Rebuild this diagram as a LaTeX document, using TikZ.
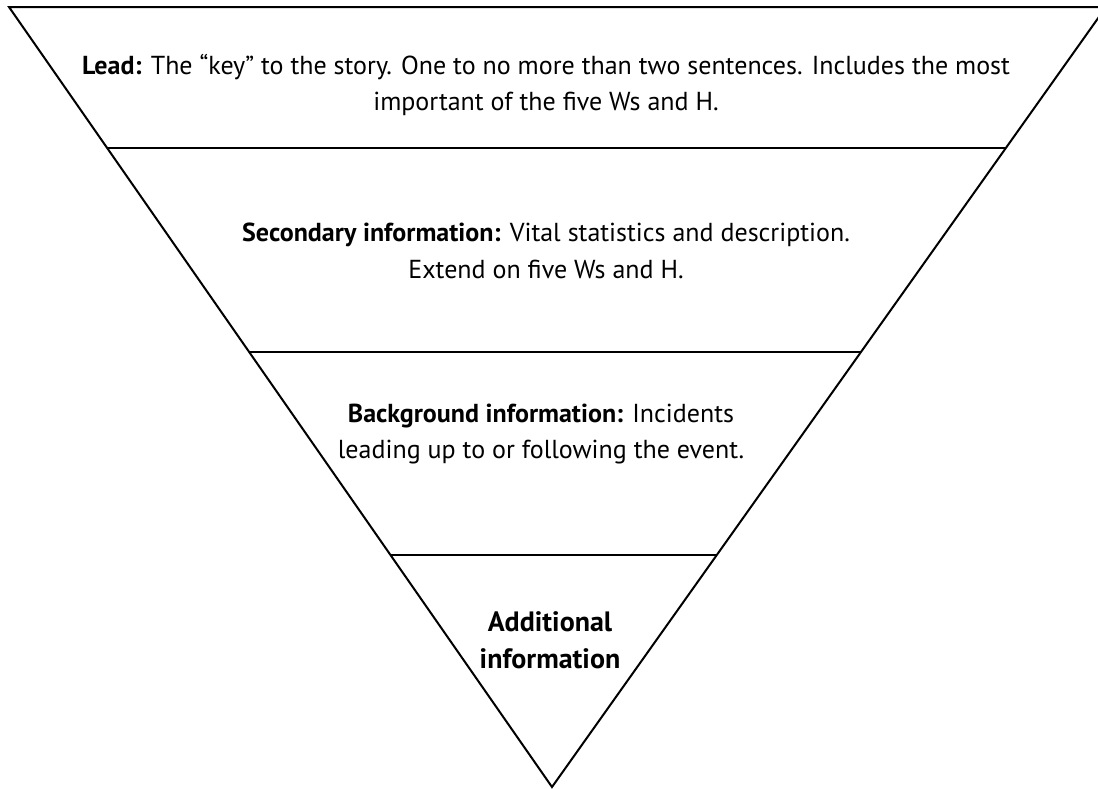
\documentclass[tikz,border=0pt]{standalone}
\usepackage{fontspec}
\setmainfont{PT Sans}
\begin{document}
\begin{tikzpicture}[x=1pt,y=-1pt,
  edge/.style={line width=2pt,black},
  tier/.style={line width=1.6pt,black},
  lbl/.style={align=center,inner sep=0pt,font=\fontsize{26}{36.5}\selectfont}]
\useasboundingbox (0,0) rectangle (1098,788);
\begin{scope}
\clip (0,0) rectangle (1098,788);
\coordinate (TL) at (9,7);
\coordinate (TR) at (1106,7);
\coordinate (A) at (552,787);
\draw[edge,line join=miter] (TL) -- (TR) -- (A) -- cycle;
\draw[line width=2.6pt] (TL) -- (1098,7);
\coordinate (L1) at (108,148);
\coordinate (R1) at (1006,148);
\coordinate (L2) at (250,352);
\coordinate (R2) at (861,352);
\coordinate (L3) at (391,555);
\coordinate (R3) at (717,555);
\draw[tier] (L1) -- (R1);
\draw[tier] (L2) -- (R2);
\draw[tier] (L3) -- (R3);
\end{scope}
\node[lbl] (lead) at (546,85) {\textbf{Lead:} The “key” to the story. One to no more than two sentences. Includes the most\\ important of the five Ws and H.};
\node[lbl] (sec) at (546,251) {\textbf{Secondary information:} Vital statistics and description.\\ Extend on five Ws and H.};
\node[lbl] (bg) at (541,434) {\textbf{Background information:} Incidents\\ leading up to or following the event.};
\node[lbl,font=\fontsize{28}{37}\selectfont] (add) at (550,640) {\textbf{Additional}\\ \textbf{information}};
\end{tikzpicture}
\end{document}
